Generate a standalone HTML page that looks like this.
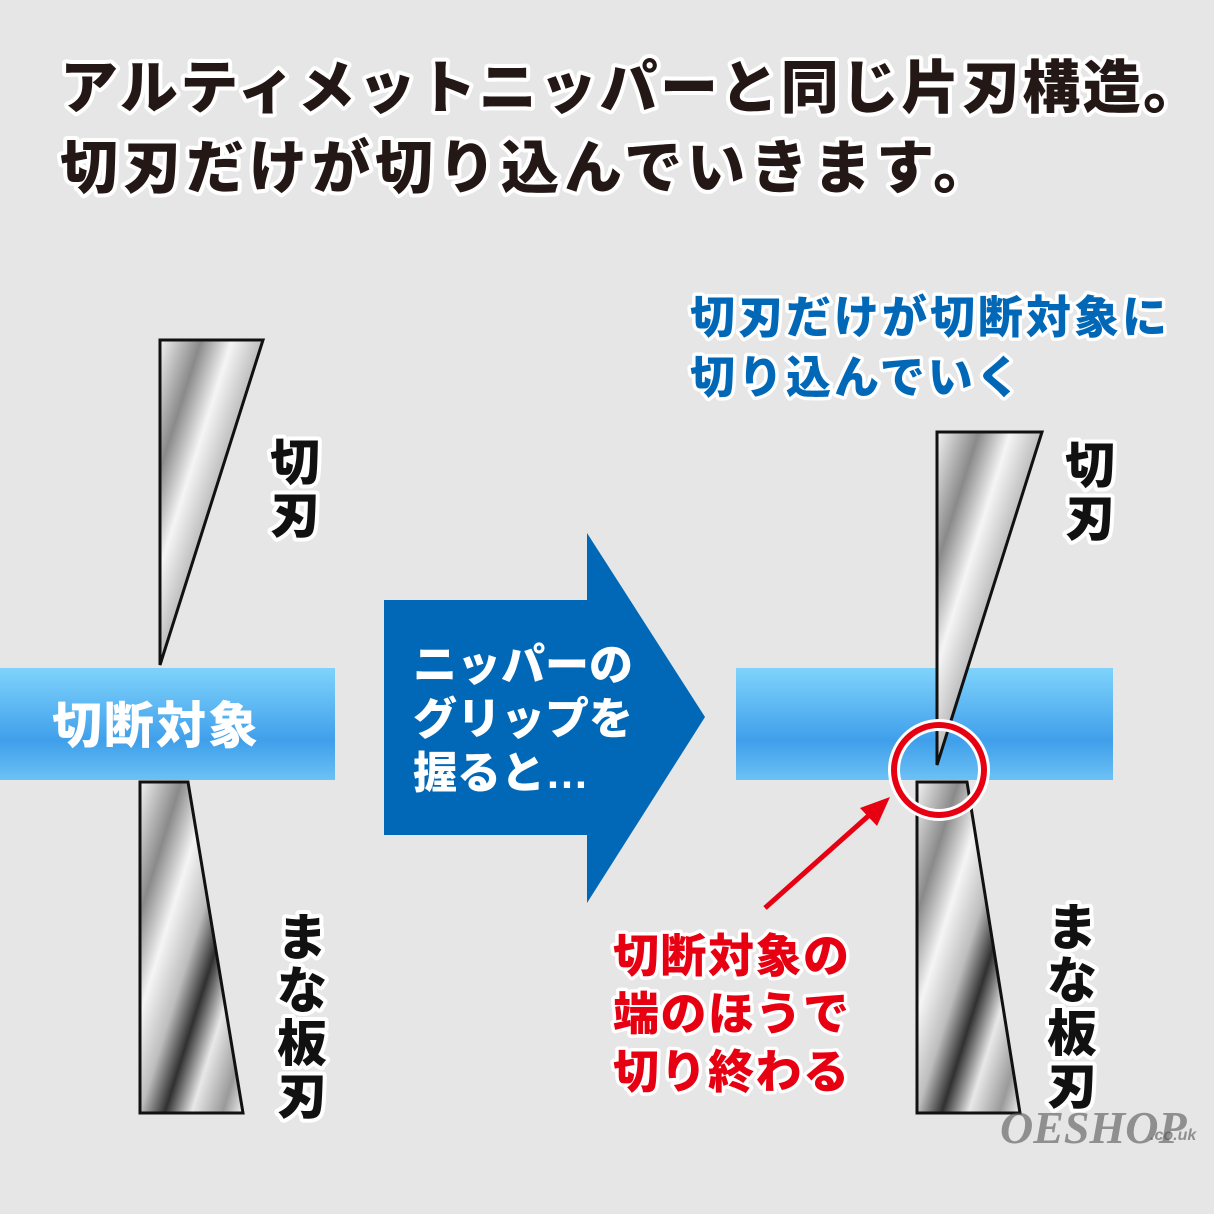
<!DOCTYPE html>
<html><head><meta charset="utf-8"><style>
html,body{margin:0;padding:0;background:#e6e6e6;}
svg{display:block}
text{font-family:"Liberation Sans","Noto Sans CJK JP",sans-serif;font-weight:900;paint-order:stroke;stroke-linejoin:round}
</style></head><body>
<svg width="1214" height="1214" viewBox="0 0 1214 1214" xmlns="http://www.w3.org/2000/svg">
<defs>
<linearGradient id="metal" x1="0" y1="0" x2="1" y2="1">
<stop offset="0" stop-color="#f2f2f2"/><stop offset="0.2" stop-color="#8a8a8a"/>
<stop offset="0.35" stop-color="#f5f5f5"/><stop offset="0.5" stop-color="#bdbdbd"/>
<stop offset="0.62" stop-color="#303030"/><stop offset="0.75" stop-color="#e8e8e8"/>
<stop offset="0.9" stop-color="#9a9a9a"/><stop offset="1" stop-color="#f0f0f0"/>
</linearGradient>
<linearGradient id="bar" x1="0" y1="0" x2="0" y2="1">
<stop offset="0" stop-color="#7fd3fb"/><stop offset="0.65" stop-color="#3f9fea"/><stop offset="1" stop-color="#6cc1f5"/>
</linearGradient>
</defs>
<rect width="1214" height="1214" fill="#e6e6e6"/>
<g font-size="58" fill="#231815" stroke="#fff" stroke-width="8">
<text x="60" y="108" letter-spacing="2.4">アルティメットニッパーと同じ片刃構造。</text>
<text x="60" y="188" letter-spacing="5">切刃だけが切り込んでいきます。</text>
</g>
<!-- left -->
<polygon points="160,340 263,340 160,665" fill="url(#metal)" stroke="#111" stroke-width="3"/>
<rect x="0" y="668" width="335" height="112" fill="url(#bar)"/>
<polygon points="140,782 188,782 243,1113 140,1113" fill="url(#metal)" stroke="#111" stroke-width="3"/>
<text x="52" y="743" font-size="50" fill="#fff" letter-spacing="2">切断対象</text>
<g font-size="50" fill="#111" stroke="#fff" stroke-width="8" text-anchor="middle">
<text x="295" y="480">切</text><text x="295" y="533">刃</text>
<text x="302" y="955">ま</text><text x="302" y="1008">な</text><text x="302" y="1061">板</text><text x="302" y="1114">刃</text>
</g>
<!-- arrow -->
<polygon points="384,600 587,600 587,533 705,717 587,903 587,835 384,835" fill="#0068b7"/>
<g font-size="44" fill="#fff">
<text x="413" y="680">ニッパーの</text>
<text x="413" y="734">グリップを</text>
<text x="413" y="788">握ると…</text>
</g>
<!-- right -->
<g font-size="45" fill="#0068b7" stroke="#fff" stroke-width="7" letter-spacing="3">
<text x="690" y="333">切刃だけが切断対象に</text>
<text x="690" y="393">切り込んでいく</text>
</g>
<rect x="736" y="668" width="377" height="112" fill="url(#bar)"/>
<polygon points="937,432 1042,432 937,765" fill="url(#metal)" stroke="#111" stroke-width="3"/>
<polygon points="917,782 967,782 1020,1113 917,1113" fill="url(#metal)" stroke="#111" stroke-width="3"/>
<circle cx="939" cy="770" r="45" fill="none" stroke="#fff" stroke-width="12"/>
<circle cx="939" cy="770" r="45" fill="none" stroke="#e60012" stroke-width="6"/>
<line x1="765" y1="908" x2="875" y2="810" stroke="#e60012" stroke-width="5"/>
<polygon points="890,797 860,808 877,826" fill="#e60012"/>
<g font-size="50" fill="#111" stroke="#fff" stroke-width="8" text-anchor="middle">
<text x="1090" y="483">切</text><text x="1090" y="536">刃</text>
<text x="1072" y="945">ま</text><text x="1072" y="998">な</text><text x="1072" y="1051">板</text><text x="1072" y="1104">刃</text>
</g>
<g font-size="46" fill="#e60012" stroke="#fff" stroke-width="7" letter-spacing="1.5">
<text x="613" y="972">切断対象の</text>
<text x="613" y="1030">端のほうで</text>
<text x="613" y="1088">切り終わる</text>
</g>
<text x="1000" y="1143" font-size="46" font-style="italic" fill="#555" fill-opacity="0.6" style="font-family:'Liberation Serif',serif" stroke="none">OESHOP</text>
<text x="1150" y="1140" font-size="16" font-style="italic" fill="#555" fill-opacity="0.6" stroke="none">.co.uk</text>
</svg>
</body></html>
